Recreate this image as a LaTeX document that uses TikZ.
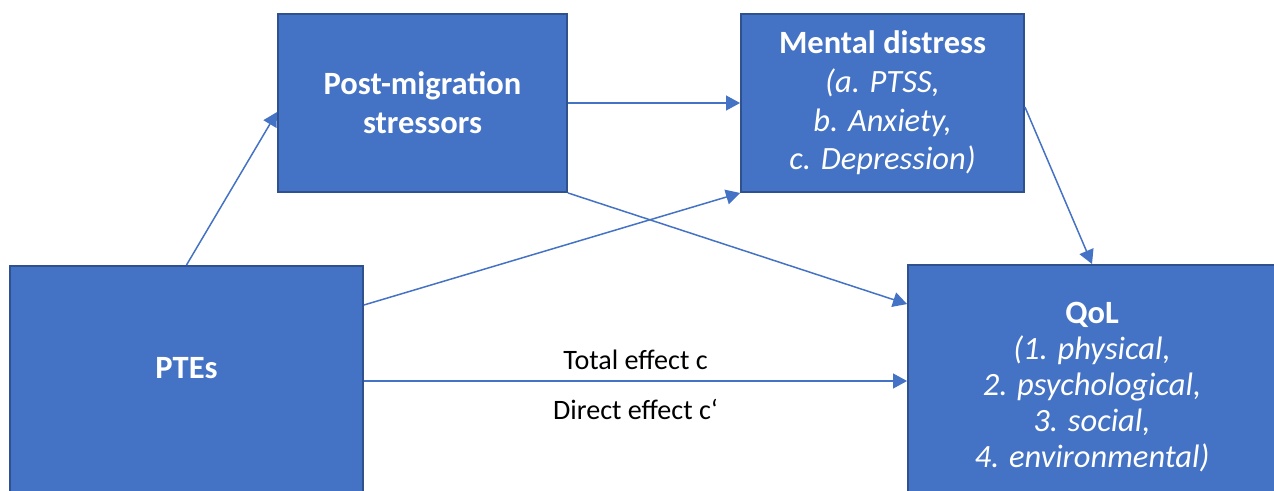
\documentclass[tikz,border=0pt]{standalone}
\usepackage{fontspec}
\setmainfont{Carlito}
\usetikzlibrary{arrows.meta,calc}
\definecolor{boxblue}{HTML}{4472C4}
\definecolor{boxedge}{HTML}{2F528F}
\tikzset{
	box/.style={draw=boxedge, line width=1.1pt, fill=boxblue, text=white, align=center, inner sep=0pt, font=\fontsize{18.5}{22}\selectfont},
	boxtext/.style={text=white, align=center, font=\fontsize{18.5}{22}\selectfont},
	link/.style={draw=boxblue, line width=0.85pt, -{Triangle[length=8pt,width=8.5pt]}},
	effect/.style={text=black, font=\fontsize{16}{19}\selectfont}
}

\begin{document}
\begin{tikzpicture}[x=0.02cm, y=-0.02cm]
		\useasboundingbox (0,0) rectangle (1274,490);
		\clip (0,0) rectangle (1274,490);

		\node[box, minimum width=5.78cm, minimum height=3.56cm] (pms) at (422.5,103) {\textbf{Post-migration}\\\textbf{stressors}};
		\node[box, minimum width=5.66cm, minimum height=3.56cm] (md) at (882.5,103) {\textbf{Mental distress}\\\textit{(a. PTSS,}\\\textit{b. Anxiety,}\\\textit{c. Depression)}};
		\node[box, minimum width=7.06cm, minimum height=5.2cm, anchor=north] (ptes) at (186.5,265) {};
		\node[boxtext] (ptestext) at ($(ptes.north)+(0,103)$) {\textbf{PTEs}};
		\node[box, minimum width=7.36cm, minimum height=4.88cm, font=\fontsize{18.5}{20.5}\selectfont] (qol) at (1092,387) {\textbf{QoL}\\\textit{(1. physical,}\\\textit{2. psychological,}\\\textit{3. social,}\\\textit{4. environmental)}};

		\coordinate (te) at ($(ptes.north east)+(0,116)$);

		\draw[link] (ptes.north) -- ($(pms.west)+(0,9)$);
		\draw[link] (pms.east) -- (md.west);
		\draw[link] (pms.south east) -- ($(qol.north west)+(0,40)$);
		\draw[link] ($(ptes.north east)+(0,40)$) -- (md.south west);
		\draw[link] ($(md.east)+(0,4)$) -- (qol.north);
		\draw[link] (te) -- (te -| qol.west)
			node[effect, midway, above=2.5pt] {Total effect c}
			node[effect, midway, below=6.5pt] {Direct effect c‘};
	\end{tikzpicture}
\end{document}
